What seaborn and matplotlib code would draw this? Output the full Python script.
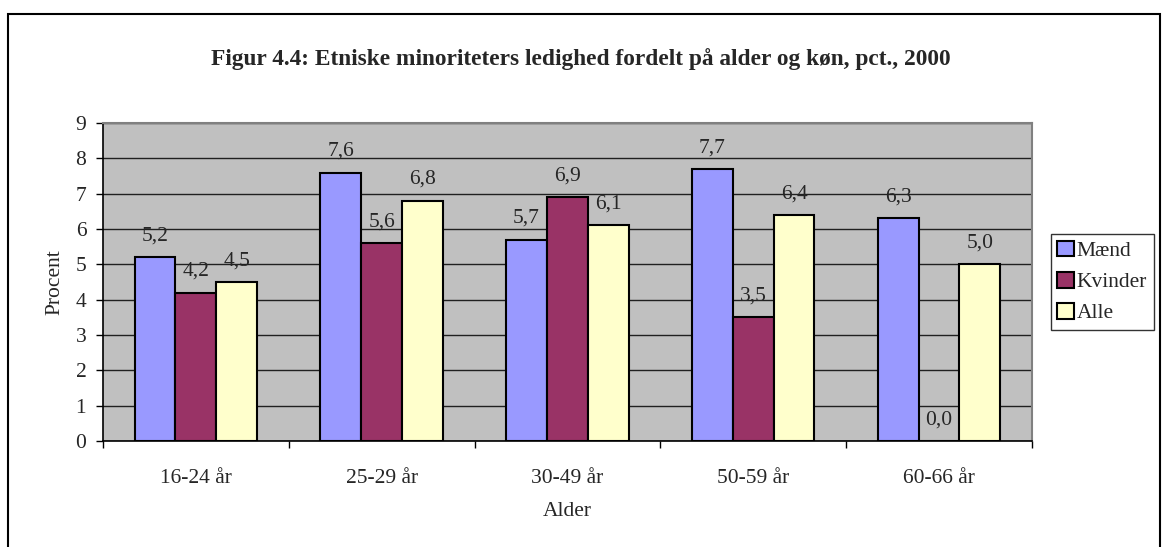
import matplotlib
matplotlib.use("Agg")
import matplotlib.pyplot as plt
import seaborn as sns
import pandas as pd
from matplotlib.patches import Rectangle
from matplotlib.ticker import FixedLocator

categories = ["16-24 år", "25-29 år", "30-49 år", "50-59 år", "60-66 år"]
series_names = ["Mænd", "Kvinder", "Alle"]
maend = [5.2, 7.6, 5.7, 7.7, 6.3]
kvinder = [4.2, 5.6, 6.9, 3.5, 0.0]
alle = [4.5, 6.8, 6.1, 6.4, 5.0]
colors = ["#9999FF", "#993366", "#FFFFCC"]

rows = []
for name, vals in zip(series_names, [maend, kvinder, alle]):
    for c, v in zip(categories, vals):
        rows.append({"Alder": c, "Serie": name, "Procent": v})
df = pd.DataFrame(rows)

sns.set_style("white")
plt.rcParams["font.family"] = ["Liberation Serif", "DejaVu Serif"]

FS = 15.5

fig = plt.figure(figsize=(11.62, 5.47), dpi=100)
ax = fig.add_axes([0.0886, 0.194, 0.7994, 0.581])
ax.set_facecolor("#C0C0C0")

sns.barplot(data=df, x="Alder", y="Procent", hue="Serie", hue_order=series_names,
            order=categories, palette=colors, width=0.66, edgecolor="black",
            linewidth=1.5, saturation=1, ax=ax, legend=True, zorder=3)

for cont in ax.containers:
    ax.bar_label(cont, labels=[f"{b.get_height():.1f}".replace(".", ",") for b in cont],
                 padding=8.5, fontsize=FS, zorder=4)

ax.set_ylim(0, 9)
ax.set_xlim(-0.5, len(categories) - 0.5)
ax.set_yticks(range(0, 10))
ax.yaxis.grid(True, color="#202020", linewidth=1, zorder=0)
ax.set_axisbelow(True)
ax.tick_params(axis="y", labelsize=FS, length=5, width=1, direction="out", left=True,
               color="black", pad=7)
ax.tick_params(axis="x", which="major", labelsize=FS, length=0, pad=20)
ax.xaxis.set_minor_locator(FixedLocator([i - 0.5 for i in range(len(categories) + 1)]))
ax.tick_params(axis="x", which="minor", length=5, width=1, bottom=True, color="black")

for s in ["top", "right"]:
    ax.spines[s].set_color("#808080")
    ax.spines[s].set_linewidth(1.5)
for s in ["left", "bottom"]:
    ax.spines[s].set_color("black")
    ax.spines[s].set_linewidth(1.2)

ax.set_xlabel("Alder", fontsize=FS, labelpad=10)
ax.set_ylabel("Procent", fontsize=FS, labelpad=8)

leg = ax.legend(loc="center left", bbox_to_anchor=(1.0205, 0.5), borderaxespad=0,
                frameon=True, fancybox=False,
                edgecolor="black", fontsize=FS, handlelength=0.75, handleheight=0.75,
                handletextpad=0.15, borderpad=0.3, labelspacing=0.5)
leg.get_frame().set_linewidth(1)

fig.text(0.5, 0.893, "Figur 4.4: Etniske minoriteters ledighed fordelt på alder og køn, pct., 2000",
         ha="center", va="center", fontsize=16.8, fontweight="bold")

fig.patches.append(Rectangle((0.007, -0.02), 0.991, 0.994, transform=fig.transFigure,
                             fill=False, edgecolor="black", linewidth=1.5))

fig.savefig("out.png", dpi=100)
